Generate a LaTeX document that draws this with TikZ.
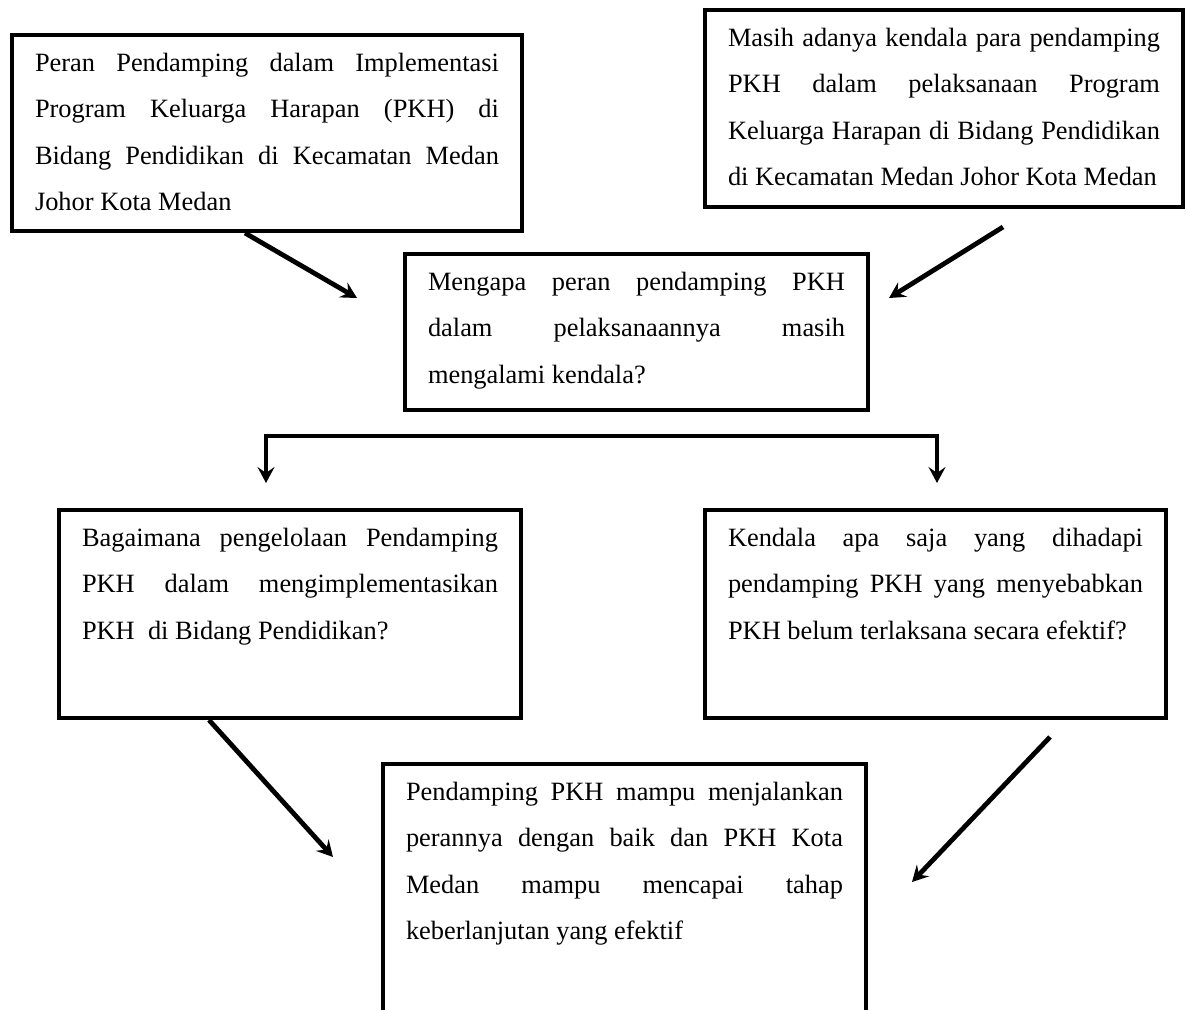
\documentclass[tikz,border=0pt]{standalone}
\usepackage{fontspec}
\setmainfont{Liberation Serif}
\usetikzlibrary{arrows.meta,calc}

\newcommand{\isi}[3]{\parbox[t][#2][t]{#1}{\fontsize{13.2}{23.25}\selectfont
  \tolerance=10000\hyphenpenalty=10000\strut #3}}

\begin{document}
\begin{tikzpicture}[x=0.5pt,y=-0.5pt,
    kotak/.style={draw, line width=2pt, anchor=north west, inner xsep=11.5pt, inner ysep=1.8pt},
    panah/.style={line width=2.4pt, -{Stealth[length=8pt,width=8.5pt,inset=3pt]}},
    garis/.style={line width=2.4pt, {Stealth[length=8pt,width=8.5pt,inset=3pt]}-{Stealth[length=8pt,width=8.5pt,inset=3pt]}}]
  \useasboundingbox (0,0) rectangle (1187,1010);
  \clip (0,0) rectangle (1187,1010);

  \node[kotak] (peran) at (10,33) {\isi{232pt}{94.4pt}{Peran Pendamping dalam Implementasi\linebreak
    Program Keluarga Harapan (PKH) di\linebreak Bidang Pendidikan di Kecamatan Medan\linebreak Johor Kota Medan}};
  \node[kotak] (kendala) at (703,8) {\isi{216pt}{94.9pt}{Masih adanya kendala para pendamping\linebreak
    PKH dalam pelaksanaan Program\linebreak Keluarga Harapan di Bidang Pendidikan\linebreak
    di Kecamatan Medan Johor Kota Medan}};
  \node[kotak] (mengapa) at (403,252) {\isi{208.5pt}{74.4pt}{Mengapa peran pendamping PKH\linebreak
    dalam pelaksanaannya masih\linebreak mengalami kendala?}};
  \node[kotak] (kelola) at (57,508) {\isi{208pt}{100.4pt}{Bagaimana pengelolaan Pendamping\linebreak
    PKH dalam mengimplementasikan\linebreak PKH\ \ di Bidang Pendidikan?}};
  \node[kotak] (hambatan) at (703,508) {\isi{207.5pt}{100.4pt}{Kendala apa saja yang dihadapi\linebreak
    pendamping PKH yang menyebabkan\linebreak PKH belum terlaksana secara efektif?}};
  \node[kotak] (hasil) at (381,762) {\isi{218.5pt}{135pt}{Pendamping PKH mampu menjalankan\linebreak
    perannya dengan baik dan PKH Kota\linebreak Medan mampu mencapai tahap\linebreak keberlanjutan yang efektif}};

  \coordinate (u1) at (357,298);
  \coordinate (s2) at (1003,227);
  \coordinate (u2) at (889,298);
  \coordinate (u3) at (333,857);
  \coordinate (s4) at (1050,737);
  \coordinate (u4) at (912,882);
  \coordinate (ki) at (266,483);
  \coordinate (ka) at (937,483);

  \draw[panah] ($(peran.south)+(-22,0)$) -- (u1);
  \draw[panah] (s2) -- (u2);
  \draw[garis] (ki) -- ++(0,-47) -| (ka);
  \draw[panah] ($(kelola.south)+(-81,0)$) -- (u3);
  \draw[panah] (s4) -- (u4);
\end{tikzpicture}
\end{document}
